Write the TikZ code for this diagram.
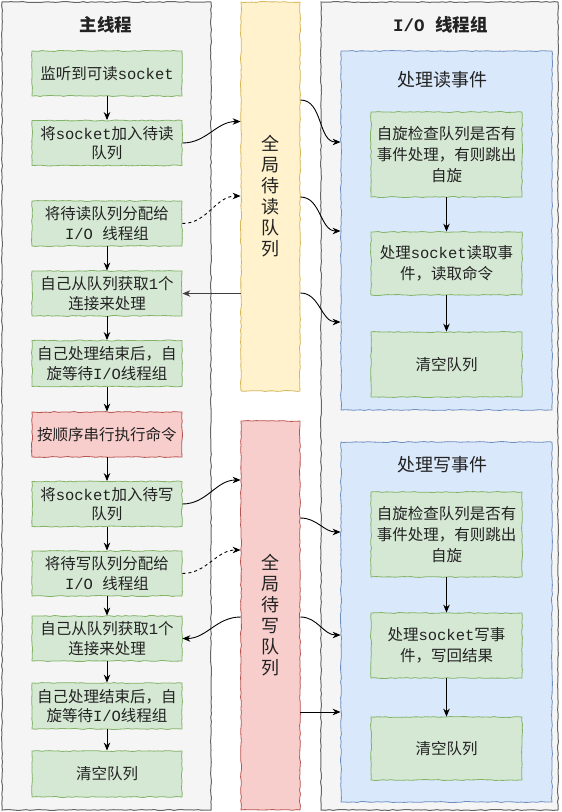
\documentclass[tikz,border=0pt]{standalone}
\usepackage{fontspec}
\setmainfont{Noto Sans CJK SC}
\newfontfamily\mono{Liberation Mono}
\usetikzlibrary{arrows.meta,decorations.pathmorphing}
\definecolor{panelfill}{HTML}{F5F5F5}
\definecolor{panelline}{HTML}{666666}
\definecolor{greenfill}{HTML}{D5E8D4}
\definecolor{greenline}{HTML}{82B366}
\definecolor{redfill}{HTML}{F8CECC}
\definecolor{redline}{HTML}{B85450}
\definecolor{yelfill}{HTML}{FFF2CC}
\definecolor{yelline}{HTML}{D6B656}
\definecolor{bluefill}{HTML}{DAE8FC}
\definecolor{blueline}{HTML}{6C8EBF}
\definecolor{txtc}{HTML}{222222}
\newcommand{\boxfont}{\fontsize{15.5}{19.5}\selectfont}
\newcommand{\iofont}{\fontsize{15.5}{21}\selectfont}
\tikzset{
  rough/.style={decorate, decoration={random steps, segment length=4pt, amplitude=0.5pt}},
  panel/.style={draw=panelline, fill=panelfill, line width=1pt, rough, inner sep=0pt},
  gbox/.style={draw=greenline, fill=greenfill, line width=0.8pt, rough, align=center, inner sep=0pt, text=txtc, font=\boxfont, minimum width=150pt, minimum height=45pt},
  rbox/.style={gbox, draw=redline, fill=redfill},
  iobox/.style={gbox, font=\iofont, minimum width=151pt},
  qbox/.style={line width=0.8pt, rough, align=center, inner sep=0pt, text=txtc, font=\fontsize{18}{21}\selectfont, minimum width=59pt},
  bbox/.style={draw=blueline, fill=bluefill, line width=0.8pt, rough, inner sep=0pt, minimum width=211pt},
  ttl/.style={font=\fontsize{17.5}{20}\selectfont\bfseries, text=txtc, inner sep=0pt},
  btl/.style={font=\fontsize{18}{20}\selectfont, text=txtc, inner sep=0pt},
  arr/.style={draw=black, line width=0.9pt, -{Stealth[length=8pt,width=6.5pt]}},
  darr/.style={arr, dash pattern=on 3pt off 3pt}
}
\begin{document}
\begin{tikzpicture}[x=1pt,y=-1pt]
\useasboundingbox (0,0) rectangle (562,812);
% panels
\node[panel, minimum width=209pt, minimum height=808pt] (mp) at (106.5,406) {};
\node[panel, minimum width=237pt, minimum height=808pt] (ip) at (439.5,406) {};
\node[ttl] (mpt) at (106,25) {主线程};
\node[ttl] (ipt) at (440.5,25) {{\mono\bfseries I/O\ }线程组};
% queues
\node[qbox, draw=yelline, fill=yelfill, minimum height=389pt] (rq) at (270.5,196.5) {全\\局\\待\\读\\队\\列};
\node[qbox, draw=redline, fill=redfill, minimum height=389pt] (wq) at (270.5,615.5) {全\\局\\待\\写\\队\\列};
% main thread boxes
\node[gbox] (m1) at (107,73.5) {监听到可读{\mono socket}};
\node[gbox] (m2) at (107,143) {将{\mono socket}加入待读\\队列};
\node[gbox] (m3) at (107,223.5) {将待读队列分配给\\{\mono I/O\ }线程组};
\node[gbox] (m4) at (107,293.5) {自己从队列获取{\mono 1}个\\连接来处理};
\node[gbox, minimum height=46pt] (m5) at (107,363.5) {自己处理结束后，自\\旋等待{\mono I/O}线程组};
\node[rbox] (m6) at (107,434.5) {按顺序串行执行命令};
\node[gbox] (m7) at (107,504) {将{\mono socket}加入待写\\队列};
\node[gbox] (m8) at (107,573.5) {将待写队列分配给\\{\mono I/O\ }线程组};
\node[gbox] (m9) at (107,638.5) {自己从队列获取{\mono 1}个\\连接来处理};
\node[gbox, minimum height=46pt] (m10) at (107,706) {自己处理结束后，自\\旋等待{\mono I/O}线程组};
\node[gbox, minimum height=46pt] (m11) at (107,774) {清空队列};
% IO group
\node[bbox, minimum height=359pt] (rb) at (446.5,230.5) {};
\node[btl] (rbt) at (442,80) {处理读事件};
\node[iobox, minimum height=85pt] (ra) at (446.5,154.5) {自旋检查队列是否有\\事件处理，有则跳出\\自旋};
\node[iobox, minimum height=63pt] (rbb) at (446.5,263.5) {处理{\mono socket}读取事\\件，读取命令};
\node[iobox, minimum height=65pt] (rc) at (446.5,364.5) {清空队列};
\node[bbox, minimum height=360pt] (wb) at (446.5,622) {};
\node[btl] (wbt) at (442,465) {处理写事件};
\node[iobox, minimum height=85pt] (wa) at (446.5,534.5) {自旋检查队列是否有\\事件处理，有则跳出\\自旋};
\node[iobox, minimum height=65pt] (wbb) at (446.5,645.5) {处理{\mono socket}写事\\件，写回结果};
\node[iobox, minimum height=63pt] (wc) at (446.5,748.5) {清空队列};
% main vertical arrows
\draw[arr] (m1.south) -- (m2.north);
\draw[arr] (m3.south) -- (m4.north);
\draw[arr] (m4.south) -- (m5.north);
\draw[arr] (m5.south) -- (m6.north);
\draw[arr] (m6.south) -- (m7.north);
\draw[arr] (m7.south) -- (m8.north);
\draw[arr] (m8.south) -- (m9.north);
\draw[arr] (m9.south) -- (m10.north);
\draw[arr] (m10.south) -- (m11.north);
% IO vertical arrows
\draw[arr] (ra.south) -- (rbb.north);
\draw[arr] (rbb.south) -- (rc.north);
\draw[arr] (wa.south) -- (wbb.north);
\draw[arr] (wbb.south) -- (wc.north);
% main <-> read queue
\draw[arr] (m2.east) to[out=0,in=180] ([yshift=75pt]rq.west);
\draw[darr] (m3.east) to[out=0,in=180] ([yshift=0.5pt]rq.west);
\draw[arr, draw=black!75] (rq.west |- m4.east) -- (m4.east);
% read queue -> read events
\draw[arr] ([yshift=96.5pt]rq.east) to[out=0,in=180] ([yshift=88.5pt]rb.west);
\draw[arr] ([yshift=-0.5pt]rq.east) to[out=0,in=180] ([yshift=-0.5pt]rb.west);
\draw[arr] ([yshift=-96.5pt]rq.east) to[out=0,in=180] ([yshift=-91.5pt]rb.west);
% main <-> write queue
\draw[arr] (m7.east) to[out=0,in=180] ([yshift=135.5pt]wq.west);
\draw[darr] (m8.east) to[out=0,in=180] ([yshift=65.5pt]wq.west);
\draw[arr] ([yshift=-1.5pt]wq.west) to[out=180,in=0] (m9.east);
% write queue -> write events
\draw[arr] ([yshift=97.5pt]wq.east) to[out=0,in=180] ([yshift=90pt]wb.west);
\draw[arr] ([yshift=-1.5pt]wq.east) to[out=0,in=180] ([yshift=-13pt]wb.west);
\draw[arr] ([yshift=-96.5pt]wq.east) -- ([yshift=-96.5pt]wq.east -| wb.west);
\end{tikzpicture}
\end{document}
